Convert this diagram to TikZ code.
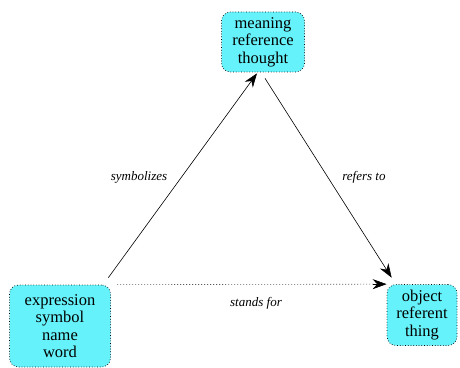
\documentclass[tikz,border=0pt]{standalone}
\usepackage{fontspec}
\setmainfont{Liberation Serif}
\usetikzlibrary{positioning, arrows.meta, calc}
\definecolor{boxcyan}{RGB}{102,242,250}
\tikzset{
	term/.style={draw=black, line width=0.7pt, dotted, fill=boxcyan, rounded corners=9pt, align=center, inner sep=0pt,
		font=\fontsize{16.5}{17.5}\selectfont},
	rel/.style={font=\fontsize{13}{15}\selectfont\itshape},
	link/.style={line width=0.6pt, -{Stealth[length=14pt, width=10pt]}},
	standsfor/.style={line width=0.6pt, dash pattern=on 0.8pt off 2.2pt, shorten >=12pt}
}

\begin{document}
\begin{tikzpicture}[x=1pt, y=1pt]
		\useasboundingbox (0, 0) rectangle (460, 367);
		\node[term, minimum width=83pt, minimum height=60pt] (meaning) at (263, 325) {meaning\\reference\\thought};
		\node[term, minimum width=101pt, minimum height=82pt] (expr) at (60, 41) {expression\\symbol\\name\\word};
		\node[term, minimum width=70pt, minimum height=61pt] (object) at (422, 52) {object\\referent\\thing};
		\draw[link] ([shift={(-2.5, 7)}]expr.north east) -- ([shift={(-6, -1)}]meaning.south);
		\draw[link] ([shift={(2, -6)}]meaning.south) -- ([shift={(5, 6.5)}]object.north west);
		\draw[standsfor] ([xshift=6.5]expr.north east) -- (object.north west);
		\draw[link] ([xshift=-14]object.north west) -- (object.north west);
		\node[rel] (symb) at (139, 190) {symbolizes};
		\node[rel] (refers) at (364, 190) {refers to};
		\node[rel] (stands) at (256, 64) {stands for};
	\end{tikzpicture}
\end{document}
